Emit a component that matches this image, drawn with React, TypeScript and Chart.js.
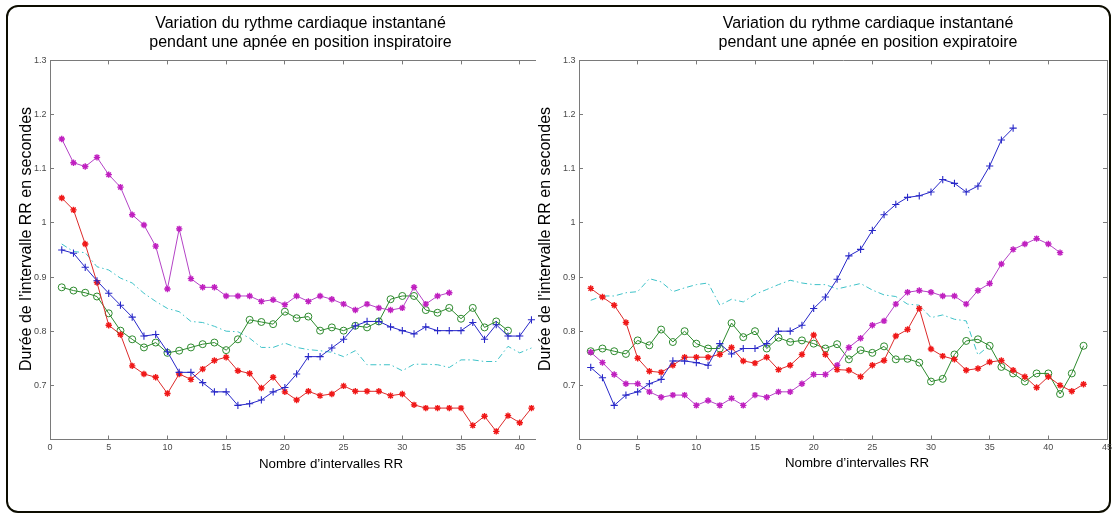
import React, { useEffect, useRef } from 'react';
import { Chart, registerables } from 'chart.js';

Chart.register(...registerables);

const FONT = "'Liberation Sans', Arial, Helvetica, sans-serif";

// ---------- texts ----------
const TITLE_INSP = ['Variation du rythme cardiaque instantané', 'pendant une apnée en position inspiratoire'];
const TITLE_EXP = ['Variation du rythme cardiaque instantané', 'pendant une apnée en position expiratoire'];
const X_LABEL = 'Nombre d’intervalles RR';
const Y_LABEL = 'Durée de l’intervalle RR en secondes';

// ---------- axes ----------
const Y_MIN = 0.6;
const Y_MAX = 1.3;
const Y_STEP = 0.1;
const X_STEP = 5;
const X_MAX_INSP = 41.3;
const X_MAX_EXP = 45;

// ---------- data : apnée en position inspiratoire ----------
const inspMagenta = [1.155, 1.111, 1.104, 1.121, 1.089, 1.066, 1.015, 0.996, 0.957, 0.878, 0.989, 0.897, 0.881, 0.881, 0.865, 0.865, 0.865, 0.855, 0.858, 0.849, 0.865, 0.855, 0.865, 0.859, 0.85, 0.839, 0.85, 0.843, 0.839, 0.843, 0.881, 0.85, 0.865, 0.871];
const inspRed = [1.046, 1.024, 0.961, 0.89, 0.811, 0.794, 0.736, 0.721, 0.715, 0.685, 0.721, 0.711, 0.73, 0.746, 0.752, 0.727, 0.722, 0.695, 0.715, 0.688, 0.673, 0.689, 0.681, 0.684, 0.699, 0.689, 0.689, 0.689, 0.681, 0.684, 0.664, 0.658, 0.658, 0.658, 0.658, 0.626, 0.643, 0.615, 0.644, 0.631, 0.658];
const inspBlue = [0.95, 0.944, 0.918, 0.893, 0.87, 0.848, 0.826, 0.791, 0.794, 0.762, 0.724, 0.724, 0.705, 0.688, 0.688, 0.663, 0.666, 0.673, 0.688, 0.696, 0.721, 0.753, 0.753, 0.769, 0.785, 0.81, 0.818, 0.818, 0.808, 0.801, 0.795, 0.808, 0.801, 0.801, 0.801, 0.816, 0.785, 0.812, 0.791, 0.791, 0.821];
const inspGreen = [0.881, 0.875, 0.871, 0.864, 0.833, 0.801, 0.785, 0.77, 0.779, 0.76, 0.764, 0.77, 0.776, 0.779, 0.765, 0.785, 0.821, 0.817, 0.813, 0.836, 0.824, 0.827, 0.801, 0.807, 0.801, 0.81, 0.807, 0.818, 0.859, 0.865, 0.865, 0.839, 0.834, 0.843, 0.823, 0.843, 0.807, 0.818, 0.801];
const inspCyan = [0.961, 0.947, 0.945, 0.919, 0.913, 0.898, 0.889, 0.87, 0.855, 0.842, 0.836, 0.818, 0.816, 0.809, 0.8, 0.799, 0.787, 0.77, 0.77, 0.778, 0.77, 0.766, 0.764, 0.761, 0.753, 0.764, 0.738, 0.738, 0.738, 0.727, 0.739, 0.739, 0.738, 0.733, 0.747, 0.747, 0.744, 0.744, 0.772, 0.76, 0.769];

// ---------- data : apnée en position expiratoire ----------
const expBlue = [0.733, 0.714, 0.663, 0.682, 0.688, 0.703, 0.711, 0.745, 0.745, 0.742, 0.737, 0.777, 0.758, 0.768, 0.768, 0.777, 0.8, 0.8, 0.811, 0.842, 0.863, 0.896, 0.939, 0.951, 0.986, 1.015, 1.034, 1.047, 1.05, 1.057, 1.08, 1.073, 1.057, 1.068, 1.105, 1.153, 1.175];
const expMagenta = [0.761, 0.742, 0.72, 0.703, 0.703, 0.688, 0.678, 0.682, 0.682, 0.663, 0.672, 0.663, 0.676, 0.663, 0.682, 0.678, 0.688, 0.688, 0.703, 0.72, 0.72, 0.737, 0.77, 0.787, 0.811, 0.819, 0.85, 0.872, 0.875, 0.872, 0.865, 0.865, 0.85, 0.875, 0.888, 0.924, 0.951, 0.961, 0.971, 0.961, 0.945];
const expRed = [0.879, 0.863, 0.848, 0.816, 0.75, 0.726, 0.724, 0.737, 0.752, 0.752, 0.752, 0.757, 0.77, 0.745, 0.741, 0.752, 0.729, 0.737, 0.757, 0.793, 0.757, 0.729, 0.728, 0.716, 0.737, 0.746, 0.791, 0.803, 0.842, 0.767, 0.754, 0.748, 0.728, 0.731, 0.743, 0.746, 0.728, 0.716, 0.696, 0.716, 0.7, 0.689, 0.702];
const expGreen = [0.763, 0.768, 0.763, 0.758, 0.783, 0.774, 0.803, 0.78, 0.8, 0.777, 0.768, 0.768, 0.815, 0.789, 0.8, 0.768, 0.788, 0.78, 0.783, 0.777, 0.768, 0.776, 0.748, 0.765, 0.76, 0.772, 0.748, 0.749, 0.742, 0.707, 0.712, 0.757, 0.782, 0.785, 0.773, 0.734, 0.722, 0.707, 0.722, 0.722, 0.684, 0.722, 0.773];
const expCyan = [0.857, 0.865, 0.865, 0.871, 0.873, 0.897, 0.891, 0.873, 0.88, 0.886, 0.889, 0.848, 0.859, 0.854, 0.868, 0.877, 0.886, 0.894, 0.889, 0.886, 0.886, 0.878, 0.883, 0.888, 0.876, 0.867, 0.864, 0.85, 0.848, 0.825, 0.83, 0.822, 0.819, 0.756, 0.774];

// ---------- styles ----------
const COLORS = {
  blue: '#2828c8',
  red: '#dc2a2a',
  redMarker: '#f01818',
  magenta: '#b443c6',
  magentaMarker: '#c020c0',
  green: '#2d8a2d',
  cyan: '#3ec2c8',
};
const AXIS_COLOR = '#7a7a7a';
const TICK_COLOR = '#4a4a4a';
const TICK_FONT = { family: FONT, size: 9 };
const CANVAS_H = 514;

const toPoints = (values: number[]) => values.map((y, i) => ({ x: i + 1, y }));

function makeDatasets(s: { blue: number[]; red: number[]; magenta: number[]; green: number[]; cyan: number[] }) {
  const base = { borderWidth: 1, backgroundColor: 'transparent', pointBackgroundColor: 'transparent', tension: 0 };
  return [
    { ...base, label: 'bleu', data: toPoints(s.blue), borderColor: COLORS.blue, pointStyle: 'cross', pointRadius: 3.6, pointBorderColor: COLORS.blue, pointBorderWidth: 1.1 },
    { ...base, label: 'rouge', data: toPoints(s.red), borderColor: COLORS.red, pointStyle: 'star', pointRadius: 3.2, pointBorderColor: COLORS.redMarker, pointBorderWidth: 1.4 },
    { ...base, label: 'magenta', data: toPoints(s.magenta), borderColor: COLORS.magenta, pointStyle: 'star', pointRadius: 3.2, pointBorderColor: COLORS.magentaMarker, pointBorderWidth: 1.4 },
    { ...base, label: 'vert', data: toPoints(s.green), borderColor: COLORS.green, pointStyle: 'circle', pointRadius: 3.5, pointBorderColor: COLORS.green, pointBorderWidth: 1 },
    { ...base, label: 'cyan', data: toPoints(s.cyan), borderColor: COLORS.cyan, borderDash: [6, 3, 1.5, 3], pointRadius: 0 },
  ];
}

const captionPlugin = {
  id: 'captions',
  afterDraw(chart: any, _args: any, opts: any) {
    const ctx = chart.ctx;
    ctx.save();
    ctx.fillStyle = '#000';
    ctx.textAlign = 'center';
    ctx.textBaseline = 'middle';
    ctx.font = `${opts.xSize}px ${FONT}`;
    ctx.fillText(opts.xText, opts.xPos[0], opts.xPos[1]);
    ctx.translate(opts.yPos[0], opts.yPos[1]);
    ctx.rotate(-Math.PI / 2);
    ctx.font = `${opts.ySize}px ${FONT}`;
    ctx.fillText(opts.yText, 0, 0);
    ctx.restore();
  },
};

type ChartProps = {
  left: number;
  width: number;
  yAxisWidth: number;
  rightAxisWidth: number;
  plotBottom: number;
  xMax: number;
  title: string[];
  rightFrame: boolean;
  xLabelPos: [number, number];
  yLabelPos: [number, number];
  datasets: any[];
};

function RRChart(p: ChartProps) {
  const ref = useRef<HTMLCanvasElement>(null);

  useEffect(() => {
    if (!ref.current) return;
    const yTickLabel = (v: any) => {
      const n = Number(v);
      if (Math.abs(n - Y_MIN) < 1e-6) return '';
      return String(Math.round(n * 10) / 10);
    };
    const innerGrid = { drawOnChartArea: false, drawTicks: true, tickLength: -4, color: AXIS_COLOR, lineWidth: 1 };
    const border = { display: true, color: AXIS_COLOR, width: 1 };
    const chart = new Chart(ref.current, {
      type: 'line',
      data: { datasets: p.datasets },
      options: {
        responsive: false,
        animation: false,
        events: [],
        layout: { padding: 0 },
        plugins: {
          legend: { display: false },
          tooltip: { enabled: false },
          title: {
            display: true,
            text: p.title,
            color: '#000',
            font: { family: FONT, size: 16, weight: 'normal', lineHeight: 1.2 },
            padding: { top: 13.6, bottom: 8.4 },
          },
          captions: {
            xText: X_LABEL,
            yText: Y_LABEL,
            xSize: 13.3,
            ySize: 16,
            xPos: p.xLabelPos,
            yPos: p.yLabelPos,
          },
        } as any,
        scales: {
          x: {
            type: 'linear',
            position: 'bottom',
            min: 0,
            max: p.xMax,
            afterFit: (s: any) => { s.height = CANVAS_H - p.plotBottom; },
            border,
            grid: innerGrid,
            ticks: { stepSize: X_STEP, includeBounds: false, autoSkip: false, maxRotation: 0, padding: 6.5, color: TICK_COLOR, font: TICK_FONT },
          },
          xTop: {
            type: 'linear',
            position: 'top',
            min: 0,
            max: p.xMax,
            afterFit: (s: any) => { s.height = 0; },
            border,
            grid: innerGrid,
            ticks: { display: false, stepSize: X_STEP, includeBounds: false, autoSkip: false },
          },
          y: {
            type: 'linear',
            position: 'left',
            min: Y_MIN,
            max: Y_MAX,
            afterFit: (s: any) => { s.width = p.yAxisWidth; },
            border,
            grid: innerGrid,
            ticks: { stepSize: Y_STEP, includeBounds: false, autoSkip: false, padding: 7.5, color: TICK_COLOR, font: TICK_FONT, callback: yTickLabel },
          },
          yRight: {
            type: 'linear',
            position: 'right',
            min: Y_MIN,
            max: Y_MAX,
            afterFit: (s: any) => { s.width = p.rightAxisWidth; },
            border: { ...border, display: p.rightFrame },
            grid: { ...innerGrid, display: p.rightFrame },
            ticks: { display: false, stepSize: Y_STEP, includeBounds: false, autoSkip: false },
          },
        } as any,
      },
      plugins: [captionPlugin as any],
    } as any);
    return () => chart.destroy();
  }, []);

  return (
    <canvas
      ref={ref}
      width={p.width}
      height={CANVAS_H}
      style={{ position: 'absolute', left: p.left, top: 0, width: p.width, height: CANVAS_H }}
    />
  );
}

export default function App() {
  const inspDatasets = makeDatasets({ blue: inspBlue, red: inspRed, magenta: inspMagenta, green: inspGreen, cyan: inspCyan });
  const expDatasets = makeDatasets({ blue: expBlue, red: expRed, magenta: expMagenta, green: expGreen, cyan: expCyan });
  return (
    <div style={{ position: 'absolute', left: 0, top: 0, width: 1112, height: 514, overflow: 'hidden', background: '#fff' }}>
      <div
        style={{
          position: 'absolute',
          left: 6,
          top: 5,
          width: 1105,
          height: 508,
          boxSizing: 'border-box',
          border: '2px solid #0d0d00',
          borderRadius: 12,
        }}
      />
      <RRChart
        left={0}
        width={601}
        yAxisWidth={50}
        rightAxisWidth={66}
        plotBottom={439.5}
        xMax={X_MAX_INSP}
        title={TITLE_INSP}
        rightFrame={false}
        xLabelPos={[331, 464]}
        yLabelPos={[27, 239]}
        datasets={inspDatasets}
      />
      <RRChart
        left={520}
        width={696}
        yAxisWidth={59}
        rightAxisWidth={109}
        plotBottom={439.5}
        xMax={X_MAX_EXP}
        title={TITLE_EXP}
        rightFrame={true}
        xLabelPos={[337, 463]}
        yLabelPos={[26, 239]}
        datasets={expDatasets}
      />
    </div>
  );
}
